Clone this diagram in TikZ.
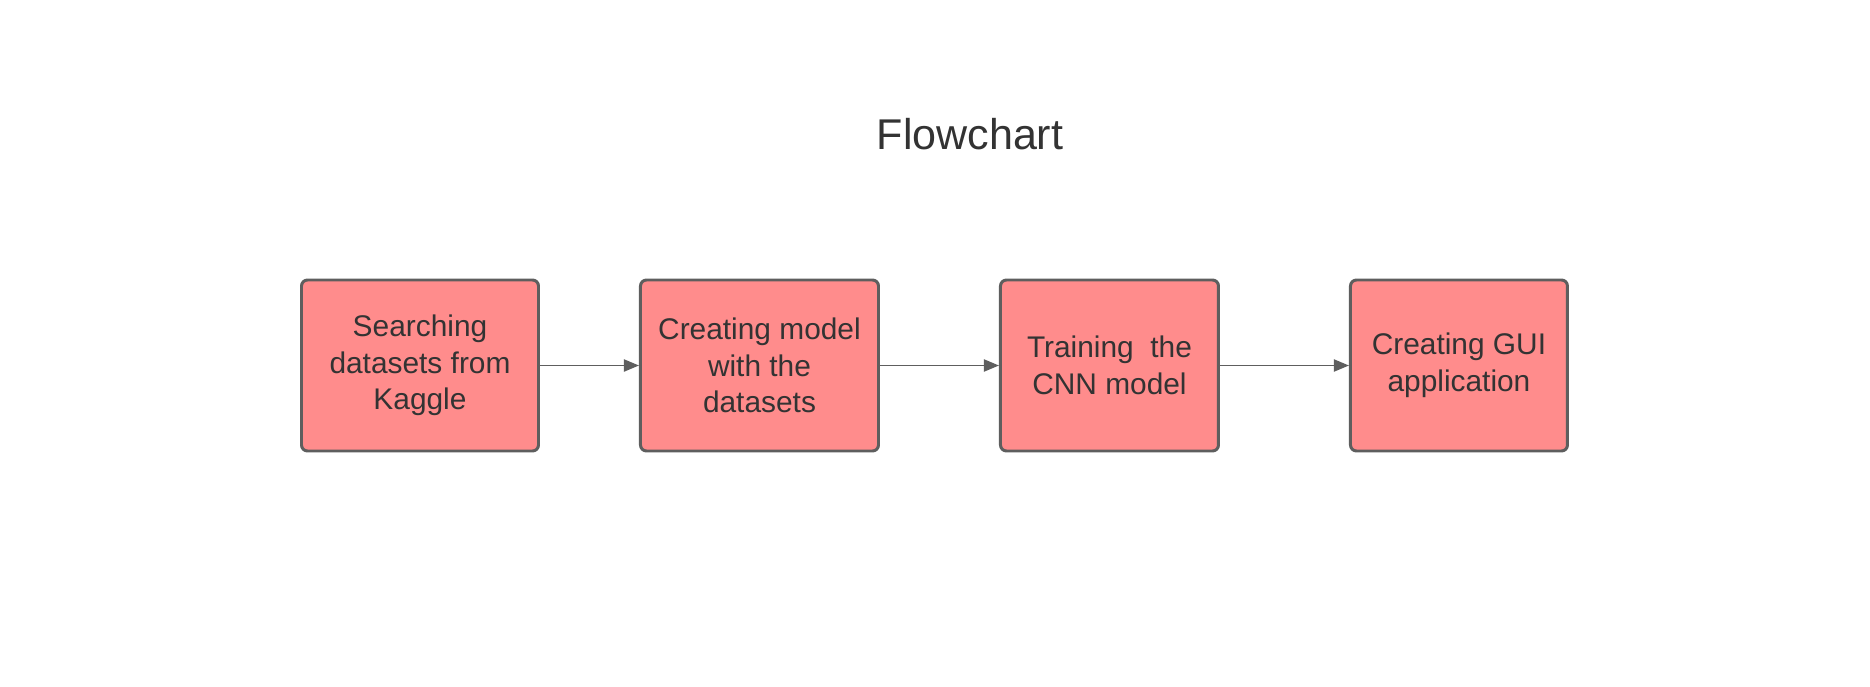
\documentclass[tikz,border=0pt]{standalone}
\usepackage{fontspec}
\setmainfont{Liberation Sans}
\usepackage{tikz}
\usetikzlibrary{arrows.meta,positioning}
\usepackage{xcolor}
\definecolor{stepfill}{HTML}{FF8C8C}
\definecolor{stepline}{HTML}{5E5E5E}
\definecolor{steptext}{HTML}{333333}

\begin{document}
\begin{tikzpicture}[
  font=\fontsize{17}{20.8}\selectfont,
  stepbox/.style={draw=stepline, fill=stepfill, text=steptext, line width=1.7pt, rounded corners=0.12cm, align=center, minimum height=3.42cm, inner sep=0pt},
  >={Triangle[length=0.3cm, width=0.24cm]}
]
\useasboundingbox (0,0) rectangle (37.4,-13.74);
\node[text=steptext, font=\fontsize{24.5}{29}\selectfont] (title) at (19.4,-2.68) {Flowchart};

\node[stepbox, minimum width=4.74cm] (s1) at (8.4,-7.31) {Searching\\datasets from\\Kaggle};
\node[stepbox, minimum width=4.76cm, right=1.98cm of s1] (s2) {Creating model\\with the\\datasets};
\node[stepbox, minimum width=4.36cm, right=2.38cm of s2] (s3) {Training~ the\\CNN model};
\node[stepbox, minimum width=4.34cm, right=2.58cm of s3] (s4) {Creating GUI\\application};

\draw[->, stepline, line width=1.1pt] (s1) -- (s2);
\draw[->, stepline, line width=1.1pt] (s2) -- (s3);
\draw[->, stepline, line width=1.1pt] (s3) -- (s4);
\end{tikzpicture}
\end{document}
